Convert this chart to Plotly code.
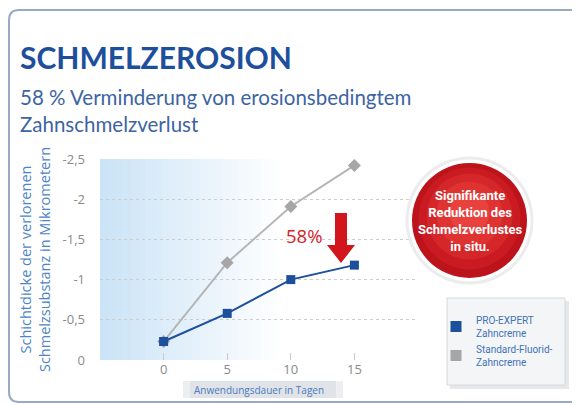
import plotly.graph_objects as go

# ---- data ----
days = [0, 5, 10, 15]
pro_expert = [-0.23, -0.58, -1.00, -1.18]
standard = [-0.23, -1.21, -1.91, -2.42]
series_names = ["PRO-EXPERT<br>Zahncreme", "Standard-Fluorid-<br>Zahncreme"]
y_ticks = [0, -0.5, -1, -1.5, -2, -2.5]
y_tick_labels = ["0", "-0,5", "-1", "-1,5", "-2", "-2,5"]
x_ticks = [0, 5, 10, 15]

# page body has an 8px margin: figure is offset by (8, 8) in the window
OFF = 8
W, H = 580 - OFF, 405 - OFF
PL, PR, PT, PB = 100, 418, 159, 360          # plot area in window pixels
L, T = PL - OFF, PT - OFF
R, B = W - (PR - OFF), H - (PB - OFF)
PW, PH = PR - PL, PB - PT


def X(px):
    return (px - PL) / PW


def Y(py):
    return (PB - py) / PH


BLUE = "#1c4f9c"
GREY = "#a6a6a6"

fig = go.Figure()
fig.add_trace(go.Scatter(x=days, y=standard, mode="lines+markers", showlegend=False,
                         line=dict(color="#b5b5b5", width=2),
                         marker=dict(symbol="diamond", size=10, color=GREY),
                         cliponaxis=False))
fig.add_trace(go.Scatter(x=days, y=pro_expert, mode="lines+markers", showlegend=False,
                         line=dict(color=BLUE, width=2),
                         marker=dict(symbol="square", size=9, color=BLUE),
                         cliponaxis=False))
# legend entries (squares only)
fig.add_trace(go.Scatter(x=[None], y=[None], mode="markers", name=series_names[0],
                         marker=dict(symbol="square", size=11, color=BLUE)))
fig.add_trace(go.Scatter(x=[None], y=[None], mode="markers", name=series_names[1],
                         marker=dict(symbol="square", size=11, color=GREY)))

shapes = []
# outer frame
fr = "M {a},{b} L {c},{b} Q {d},{b} {d},{e} L {d},{f} Q {d},{g} {c},{g} L {a},{g}".format(
    a=X(620), b=Y(10), c=X(19), d=X(9), e=Y(20), f=Y(392), g=Y(402))
shapes.append(dict(type="path", xref="paper", yref="paper", path=fr,
                   line=dict(color="#9aaac6", width=2), layer="below"))
shapes.append(dict(type="line", xref="paper", yref="paper", x0=X(577), x1=X(577), y0=Y(12), y1=Y(405),
                   line=dict(color="#eef0f3", width=1), layer="below"))
# gradient shading in plot area
n = 24
x_start, x_end = 100, 285
for i in range(n):
    t = i / (n - 1)
    r = int(203 + (255 - 203) * t)
    g = int(228 + (255 - 228) * t)
    b = int(247 + (255 - 247) * t)
    shapes.append(dict(type="rect", xref="paper", yref="paper",
                       x0=X(x_start + (x_end - x_start) * i / n),
                       x1=X(x_start + (x_end - x_start) * (i + 1) / n + 0.5),
                       y0=0, y1=1, fillcolor=f"rgb({r},{g},{b})", line=dict(width=0), layer="below"))
# x-axis title box (soft gradient)
shapes.append(dict(type="rect", xref="paper", yref="paper", x0=X(183), x1=X(343), y0=Y(398), y1=Y(381),
                   fillcolor="#eceef1", line=dict(width=0), layer="below"))
shapes.append(dict(type="rect", xref="paper", yref="paper", x0=X(190), x1=X(336), y0=Y(398), y1=Y(381),
                   fillcolor="#e0e3e7", line=dict(width=0), layer="below"))
# legend box with shadow
shapes.append(dict(type="rect", xref="paper", yref="paper", x0=X(450), x1=X(569), y0=Y(389), y1=Y(301),
                   fillcolor="#e6e7e9", line=dict(width=0), layer="below"))
shapes.append(dict(type="rect", xref="paper", yref="paper", x0=X(447), x1=X(565), y0=Y(385), y1=Y(298),
                   fillcolor="#f4f5f7", line=dict(color="#d6d8db", width=1), layer="below"))
# red badge
cx, cy = 469.5, 220.5


def circ(rad, color, dy=0):
    return dict(type="circle", xref="paper", yref="paper",
                x0=X(cx - rad), x1=X(cx + rad), y0=Y(cy + dy + rad), y1=Y(cy + dy - rad),
                fillcolor=color, line=dict(width=0), layer="above")


shapes.append(circ(64, "#ececec"))
shapes.append(circ(61, "#ffffff"))
reds = [(57.5, "#bd131a", 0), (51, "#c91b21", -2), (43, "#d5262a", -4), (33, "#df3331", -6), (20, "#e8413e", -8)]
for rad, col, dy in reds:
    shapes.append(circ(rad, col, dy))
# arrow
ax, top, hs, tip = 341, 213, 245, 263
arrow = "M {a},{t} L {b},{t} L {b},{h} L {c},{h} L {m},{p} L {d},{h} L {e},{h} L {e},{t} Z".format(
    a=X(ax - 6), b=X(ax + 6), c=X(ax + 14), d=X(ax - 14), e=X(ax - 6), m=X(ax),
    t=Y(top), h=Y(hs), p=Y(tip))
shapes.append(dict(type="path", xref="paper", yref="paper", path=arrow,
                   fillcolor="#d3161c", line=dict(width=0), layer="above"))

annotations = [
    dict(text="<b>SCHMELZEROSION</b>", xref="paper", yref="paper", x=X(18), y=Y(57),
         xanchor="left", yanchor="middle", showarrow=False,
         font=dict(family="Lato", size=30, color="#1d4f9c")),
    dict(text="58 % Verminderung von erosionsbedingtem<br>Zahnschmelzverlust", xref="paper", yref="paper",
         x=X(18), y=Y(110), xanchor="left", yanchor="middle", align="left", showarrow=False,
         font=dict(family="Lato", size=20.5, color="#3d64a3")),
    dict(text="58%", xref="paper", yref="paper", x=X(304), y=Y(235), xanchor="center", yanchor="middle",
         showarrow=False, font=dict(family="Open Sans", size=18.5, color="#d4232b")),
    dict(text="<b>Signifikante<br>Reduktion des<br>Schmelzverlustes<br>in situ.</b>", xref="paper", yref="paper",
         x=X(cx), y=Y(221), xanchor="center", yanchor="middle", align="center", showarrow=False,
         font=dict(family="Roboto", size=13, color="#ffffff")),
]

fig.update_layout(
    width=W, height=H, margin=dict(l=L, r=R, t=T, b=B, autoexpand=False),
    paper_bgcolor="white", plot_bgcolor="rgba(0,0,0,0)",
    separators=",.",
    font=dict(family="Open Sans", color="#8a8a8a"),
    shapes=shapes, annotations=annotations,
    showlegend=True,
    legend=dict(x=X(436), y=Y(307), xanchor="left", yanchor="top", bgcolor="rgba(0,0,0,0)",
                font=dict(family="Roboto", size=10, color="#3f72b8"), tracegroupgap=4,
                itemclick=False),
    xaxis=dict(range=[-5, 20], tickvals=x_ticks, showgrid=False, zeroline=False, showline=False,
               automargin=False,
               ticks="inside", ticklen=7, tickcolor="#c8c8c8", tickwidth=1,
               tickfont=dict(size=13, color="#8a8a8a"),
               title=dict(text="Anwendungsdauer in Tagen", standoff=9,
                          font=dict(size=10, color="#4b7bbd"))),
    yaxis=dict(range=[0, -2.5], tickvals=y_ticks, ticktext=y_tick_labels, showgrid=True,
               gridcolor="#cdcdcd", griddash="dot", automargin=False,
               gridwidth=1, zeroline=False, showline=False, ticks="", ticklabelstandoff=14,
               tickfont=dict(size=13, color="#8a8a8a"),
               title=dict(text="Schichtdicke der verlorenen<br>Schmelzsubstanz in Mikrometern", standoff=8,
                          font=dict(size=14.5, color="#4d84c6"))),
)

fig.write_html("out.html")
